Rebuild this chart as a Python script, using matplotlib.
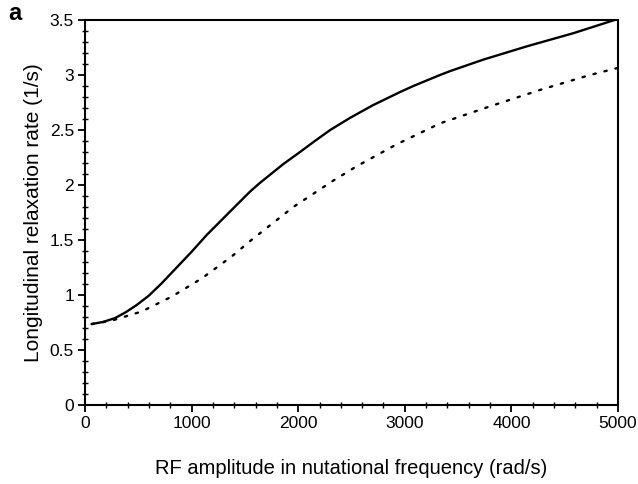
import matplotlib
matplotlib.use("Agg")
import matplotlib.pyplot as plt
from matplotlib.ticker import MultipleLocator

plt.rcParams['font.family'] = ['Liberation Sans', 'DejaVu Sans']

# Solid curve
solid_x = [63, 170, 281, 380, 485, 600, 719, 860, 1001, 1141, 1391, 1548, 1642, 1860, 2017, 2142, 2300, 2486,
           2700, 2955, 3080, 3330, 3424, 3737, 4143, 4581, 5000]
solid_y = [0.736, 0.755, 0.790, 0.842, 0.909, 0.995, 1.106, 1.250, 1.394, 1.545, 1.788, 1.94, 2.02, 2.19, 2.30, 2.39, 2.50, 2.61,
           2.725, 2.845, 2.90, 3.0, 3.035, 3.14, 3.26, 3.38, 3.51]

# Dotted curve
dot_x = [63, 250, 532, 813, 1094, 1376, 1548, 1954, 2329, 2548, 2924, 3330, 3799, 4268, 4737, 5000]
dot_y = [0.736, 0.767, 0.85, 0.985, 1.15, 1.35, 1.49, 1.80, 2.04, 2.17, 2.37, 2.56, 2.715, 2.864, 3.0, 3.065]

xticks = [0, 1000, 2000, 3000, 4000, 5000]
xticklabels = ['0', '1000', '2000', '3000', '4000', '5000']
yticks = [0, 0.5, 1, 1.5, 2, 2.5, 3, 3.5]
yticklabels = ['0', '0.5', '1', '1.5', '2', '2.5', '3', '3.5']

fig = plt.figure(figsize=(6.38, 4.84), dpi=100)
ax = fig.add_axes([85/638, 1-405/484, (618-85)/638, (405-20)/484])

ax.plot(solid_x, solid_y, color='black', lw=1.7, solid_capstyle='round', solid_joinstyle='round')
ax.plot(dot_x, dot_y, color='black', lw=1.7, linestyle=(0, (1, 3.8)), dash_capstyle='round')

ax.set_xlim(0, 5000)
ax.set_ylim(0, 3.5)
ax.set_xticks(xticks)
ax.set_xticklabels(xticklabels)
ax.set_yticks(yticks)
ax.set_yticklabels(yticklabels)
ax.xaxis.set_minor_locator(MultipleLocator(200))
ax.yaxis.set_minor_locator(MultipleLocator(0.1))
ax.tick_params(which='major', direction='out', length=5, width=1.3, labelsize=12.5, pad=3,
               top=False, right=False)
ax.tick_params(which='minor', direction='inout', length=4, width=1.0, top=False, right=False)
for s in ax.spines.values():
    s.set_linewidth(1.5)

ax.set_ylabel('Longitudinal relaxation rate (1/s)', fontsize=15, labelpad=5)
ax.set_xlabel('RF amplitude in nutational frequency (rad/s)', fontsize=14.5, labelpad=20)
fig.text(8/638, 1-14/484, 'a', fontsize=17, fontweight='bold', va='center', ha='left')

fig.savefig('out.png', dpi=100)
